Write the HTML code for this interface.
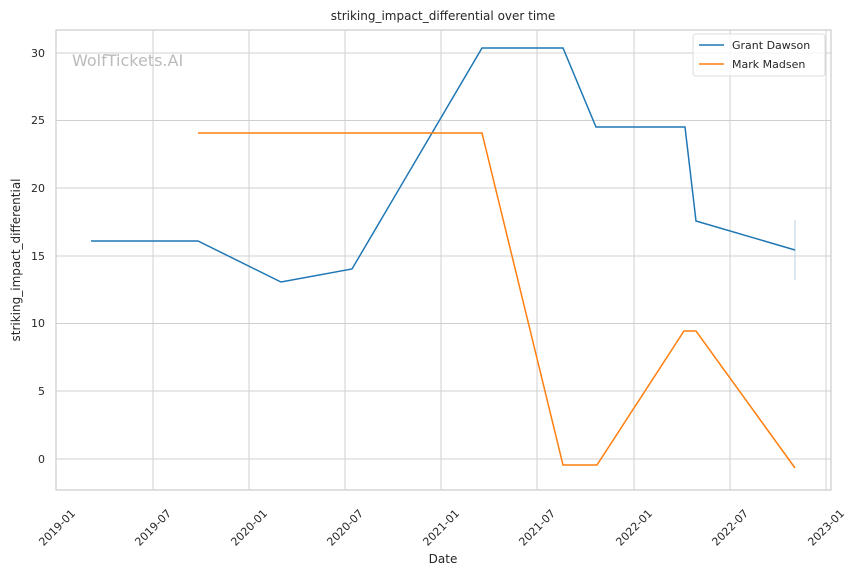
<!DOCTYPE html>
<html><head><style>body{margin:0;background:#fff}svg{font-family:"DejaVu Sans","Liberation Sans",sans-serif}</style></head>
<body>
<svg width="858" height="575" xmlns="http://www.w3.org/2000/svg">
<rect width="858" height="575" fill="#fff"/>
<g stroke="#d0d0d0" stroke-width="1">
<line x1="56" x2="831" y1="459" y2="459"/><line x1="56" x2="831" y1="391" y2="391"/>
<line x1="56" x2="831" y1="323.5" y2="323.5"/><line x1="56" x2="831" y1="256" y2="256"/>
<line x1="56" x2="831" y1="188" y2="188"/><line x1="56" x2="831" y1="120.5" y2="120.5"/>
<line x1="56" x2="831" y1="53" y2="53"/>
<line x1="153" x2="153" y1="30" y2="490"/><line x1="249" x2="249" y1="30" y2="490"/>
<line x1="345" x2="345" y1="30" y2="490"/><line x1="441" x2="441" y1="30" y2="490"/>
<line x1="537" x2="537" y1="30" y2="490"/><line x1="634" x2="634" y1="30" y2="490"/>
<line x1="730" x2="730" y1="30" y2="490"/><line x1="826" x2="826" y1="30" y2="490"/>
</g>
<rect x="56" y="30" width="775" height="460" fill="none" stroke="#cccccc" stroke-width="1.2"/>
<text x="72" y="66" font-size="16" fill="#bbbbbb">WolfTickets.AI</text>
<line x1="795" x2="795" y1="220" y2="280" stroke="#b8cfe0" stroke-width="1"/>
<polyline fill="none" stroke="#1f77b4" stroke-width="1.5" points="91,241 198,241 281,282 352,269 482,48 563,48 596,127 685,127 696,221 795,250"/>
<polyline fill="none" stroke="#ff7f0e" stroke-width="1.5" points="198,133 482,133 563,465 597,465 684,331 696,331 795,468"/>
<g font-size="11" fill="#262626" text-anchor="end">
<text x="45" y="463">0</text><text x="45" y="395">5</text><text x="45" y="327">10</text>
<text x="45" y="260">15</text><text x="45" y="192">20</text><text x="45" y="124">25</text><text x="45" y="57">30</text>
</g>
<g font-size="11" fill="#262626" text-anchor="end">
<text transform="translate(76,514) rotate(-45)">2019-01</text>
<text transform="translate(172,514) rotate(-45)">2019-07</text>
<text transform="translate(268,514) rotate(-45)">2020-01</text>
<text transform="translate(364,514) rotate(-45)">2020-07</text>
<text transform="translate(460,514) rotate(-45)">2021-01</text>
<text transform="translate(556,514) rotate(-45)">2021-07</text>
<text transform="translate(653,514) rotate(-45)">2022-01</text>
<text transform="translate(749,514) rotate(-45)">2022-07</text>
<text transform="translate(845,514) rotate(-45)">2023-01</text>
</g>
<text x="443" y="563" font-size="12" fill="#262626" text-anchor="middle">Date</text>
<text transform="translate(20,260) rotate(-90)" font-size="12" fill="#262626" text-anchor="middle">striking_impact_differential</text>
<text x="443" y="20" font-size="12" fill="#262626" text-anchor="middle">striking_impact_differential over time</text>
<rect x="693" y="34" width="132" height="42" rx="3" fill="#fff" fill-opacity="0.8" stroke="#dddddd"/>
<line x1="699" x2="724" y1="45" y2="45" stroke="#1f77b4" stroke-width="1.5"/>
<line x1="699" x2="724" y1="64" y2="64" stroke="#ff7f0e" stroke-width="1.5"/>
<text x="732" y="49" font-size="11" fill="#262626">Grant Dawson</text>
<text x="732" y="68" font-size="11" fill="#262626">Mark Madsen</text>
</svg>
</body></html>
